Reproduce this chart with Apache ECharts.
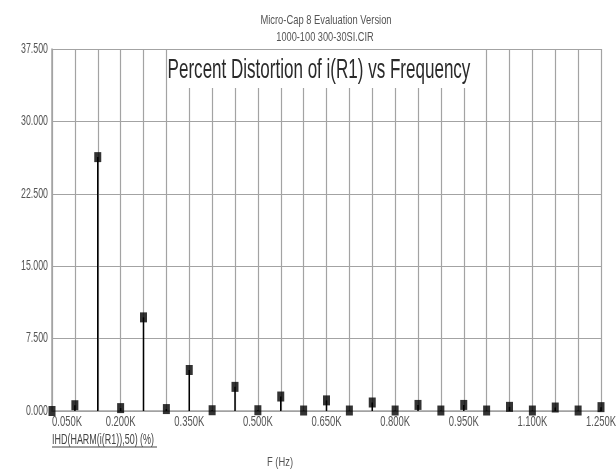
<!DOCTYPE html>
<html>
<head>
<meta charset="utf-8">
<script src="https://cdn.jsdelivr.net/npm/echarts@6/dist/echarts.min.js"></script>
<style>
  html, body { margin: 0; padding: 0; background: #fff; }
  #chart { width: 616px; height: 469px; }
</style>
</head>
<body>
<div id="chart"></div>
<script>
// frequency of each harmonic (Hz)
var freqs = [50, 100, 150, 200, 250, 300, 350, 400, 450, 500, 550, 600, 650,
             700, 750, 800, 850, 900, 950, 1000, 1050, 1100, 1150, 1200, 1250];
// IHD(HARM(i(R1)),50) in %
var ihd = [0.0, 0.6, 26.3, 0.3, 9.7, 0.2, 4.25, 0.08, 2.5, 0.08, 1.5, 0.05, 1.1,
           0.05, 0.88, 0.05, 0.63, 0.05, 0.63, 0.05, 0.43, 0.05, 0.36, 0.05, 0.4];
// labelled ticks
var xTicks = [50, 200, 350, 500, 650, 800, 950, 1100, 1250];
var yTicks = [0, 7.5, 15, 22.5, 30, 37.5];

// no narrow font installed, so texts are squeezed with scaleX
var font = "'Liberation Sans', Arial, sans-serif";
var gridColor = "#a3a3a3";
var textColor = "#555";

var pts = [];
for (var i = 0; i < freqs.length; i++) {
  pts.push([freqs[i], ihd[i]]);
}

var myChart = echarts.init(document.getElementById("chart"));
var option = {
  animation: false,
  backgroundColor: "#fff",
  grid: { left: 52, right: 15, top: 49, bottom: 58 },
  xAxis: {
    type: "value",
    min: 50,
    max: 1250,
    interval: 50,
    axisLine: { show: true, onZero: false, lineStyle: { color: gridColor, width: 1.5 } },
    axisTick: { show: false },
    splitLine: { show: true, lineStyle: { color: gridColor, width: 1.2 } },
    axisLabel: { show: false },
  },
  yAxis: {
    type: "value",
    min: 0,
    max: 37.5,
    interval: 7.5,
    axisLine: { show: true, lineStyle: { color: gridColor, width: 1.5 } },
    axisTick: { show: false },
    splitLine: { show: true, lineStyle: { color: gridColor, width: 1.2 } },
    axisLabel: { show: false },
  },
  series: [
    {
      name: "stem",
      type: "bar",
      barWidth: 1.5,
      itemStyle: { color: "#000" },
      data: pts,
      z: 3,
    },
    {
      name: "IHD",
      type: "scatter",
      symbol: "rect",
      symbolSize: [7, 10],
      itemStyle: { color: "#000" },
      clip: false,
      data: pts,
      z: 4,
    },
  ],
};
option && myChart.setOption(option);

function txt(str, x, y, size, sx, align, color) {
  return {
    type: "text",
    z: 101,
    x: x,
    y: y,
    scaleX: sx,
    style: {
      text: str,
      font: size + "px " + font,
      fill: color || textColor,
      align: align || "center",
      verticalAlign: "middle",
    },
  };
}

var graphics = [
  {
    type: "rect",
    z: 100,
    shape: { x: 170, y: 50, width: 302, height: 38 },
    style: { fill: "#fff" },
  },
  txt("Percent Distortion of i(R1) vs Frequency", 319, 70, 28, 0.608, "center", "#2a2a2a"),
  txt("Micro-Cap 8 Evaluation Version", 326, 20, 13, 0.72),
  txt("1000-100 300-30SI.CIR", 325, 37, 13, 0.71),
  txt("IHD(HARM(i(R1)),50) (%)", 52, 440, 14, 0.64, "left", "#444"),
  {
    type: "line",
    z: 101,
    shape: { x1: 52, y1: 447, x2: 157, y2: 447 },
    style: { stroke: "#444", lineWidth: 1 },
  },
  txt("F (Hz)", 280, 462, 13, 0.72),
];

// axis labels placed through the axes' own scales
xTicks.forEach(function (v, idx) {
  var px = myChart.convertToPixel({ xAxisIndex: 0 }, v);
  var py = myChart.convertToPixel({ yAxisIndex: 0 }, 0);
  var t = txt((v / 1000).toFixed(3) + "K", px, py + 11, 15, 0.63, idx === 0 ? "left" : "center");
  graphics.push(t);
});
yTicks.forEach(function (v) {
  var px = myChart.convertToPixel({ xAxisIndex: 0 }, 50);
  var py = myChart.convertToPixel({ yAxisIndex: 0 }, v);
  graphics.push(txt(v.toFixed(3), px - 4, py, 14, 0.63, "right"));
});

myChart.setOption({ graphic: graphics });
</script>
</body>
</html>
